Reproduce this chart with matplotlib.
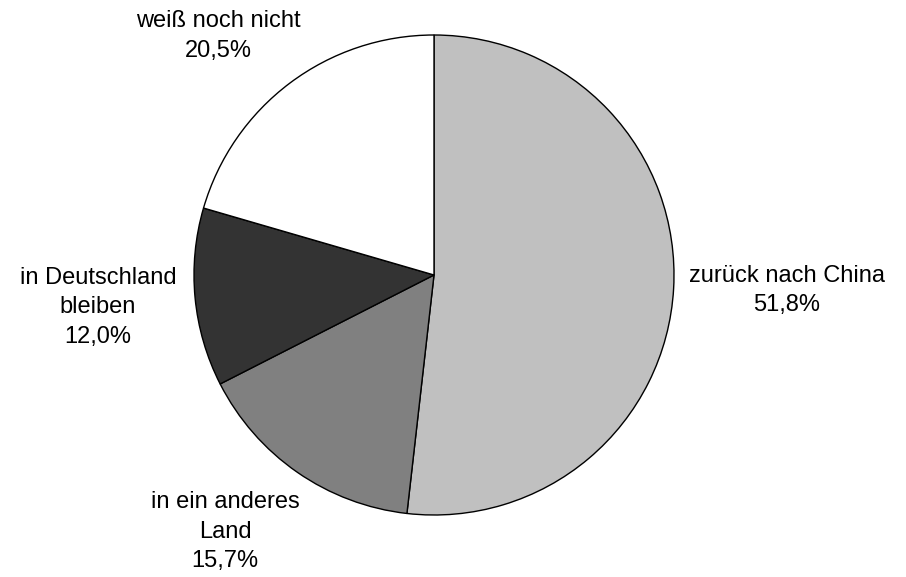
import matplotlib
matplotlib.use("Agg")
import matplotlib.pyplot as plt

categories = ["zurück nach China", "in ein anderes\nLand", "in Deutschland\nbleiben", "weiß noch nicht"]
shares = [51.8, 15.7, 12.0, 20.5]
colors = ["#c0c0c0", "#808080", "#333333", "#ffffff"]

# label centres in axes data units (pie radius = 1)
label_pos = [(1.47, -0.065), (-0.87, -1.07), (-1.40, -0.135), (-0.90, 0.995)]

plt.rcParams["font.family"] = ["Liberation Sans", "DejaVu Sans"]

fig = plt.figure(figsize=(9.06, 5.77), dpi=100)
ax = fig.add_axes([194 / 906, 62 / 577, 480 / 906, 480 / 577])

ax.pie(shares, colors=colors, startangle=90, counterclock=False,
       wedgeprops=dict(edgecolor="black", linewidth=1.0), radius=1.0)

for name, val, (x, y) in zip(categories, shares, label_pos):
    txt = f"{name}\n{val:.1f}%".replace(".", ",")
    ax.text(x, y, txt, ha="center", va="center", fontsize=17, linespacing=1.45)

ax.set_xlim(-1, 1)
ax.set_ylim(-1, 1)
ax.set_aspect("equal")
ax.axis("off")

plt.savefig("out.png", dpi=100)
plt.close()
